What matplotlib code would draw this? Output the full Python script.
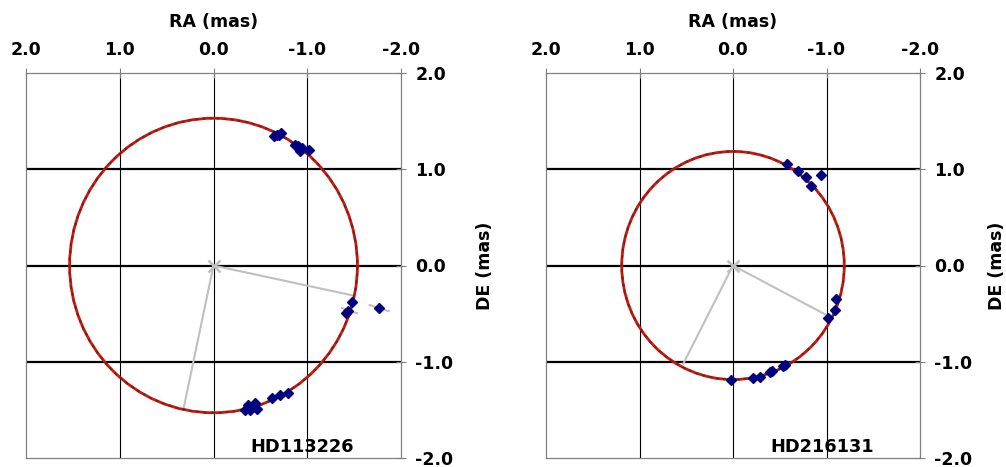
import matplotlib
matplotlib.use("Agg")
import matplotlib.pyplot as plt
from matplotlib.patches import Ellipse

plt.rcParams['font.family'] = ['DejaVu Sans']
plt.rcParams['font.weight'] = 'bold'

# ---- data ----
ticks = [-2.0, -1.0, 0.0, 1.0, 2.0]
tick_labels = ["-2.0", "-1.0", "0.0", "1.0", "2.0"]

names = ["HD113226", "HD216131"]

# observed positions (RA, DE) in mas
ra_1 = [-0.645, -0.674, -0.720, -0.702, -0.869, -0.905, -0.923, -0.941, -1.022,
        -1.477, -1.431, -1.413, -1.762,
        -0.365, -0.336, -0.389, -0.443, -0.461, -0.627, -0.709, -0.791]
de_1 = [1.349, 1.359, 1.377, 1.359, 1.255, 1.238, 1.185, 1.221, 1.196,
        -0.383, -0.474, -0.492, -0.446,
        -1.446, -1.505, -1.505, -1.425, -1.488, -1.373, -1.349, -1.321]

ra_2 = [-0.581, -0.692, -0.781, -0.831, -0.938,
        -1.102, -1.091, -1.013,
        -0.556, -0.538, -0.414, -0.396, -0.289, -0.217, 0.025]
de_2 = [1.054, 0.984, 0.915, 0.821, 0.943,
        -0.352, -0.464, -0.544,
        -1.029, -1.047, -1.092, -1.108, -1.154, -1.171, -1.185]

# orbit sizes (full width / height, mas)
orbit_w = [3.07, 2.38]
orbit_h = [3.06, 2.37]

# radial lines from centre: end points (RA, DE)
spoke_ra = [[-1.48, 0.317], [-1.002, 0.531]]
spoke_de = [[-0.31, -1.476], [-0.516, -1.019]]

# short uncertainty segments (RA pairs, DE pairs) for first star
err_ra = [[-1.666, -1.868], [-1.371, -1.531]]
err_de = [[-0.411, -0.474], [-0.443, -0.495]]

ras = [ra_1, ra_2]
des = [de_1, de_2]

W, H = 1006, 467
fig = plt.figure(figsize=(W / 100, H / 100), dpi=100)

panels = [(26, 401), (546, 920)]
ylabel_pads = [16, 11]
top_px, bot_px = 73, 458

for i, (x0, x1) in enumerate(panels):
    ax = fig.add_axes([x0 / W, 1 - bot_px / H, (x1 - x0) / W, (bot_px - top_px) / H])
    ax.set_xlim(2, -2)
    ax.set_ylim(-2, 2)

    # grid
    for v in [-1.0, 0.0, 1.0]:
        ax.axvline(v, color='black', lw=0.8, zorder=1)
        ax.axhline(v, color='black', lw=1.6, zorder=1)

    # spokes
    for k in range(2):
        ax.plot([0, spoke_ra[i][k]], [0, spoke_de[i][k]], color='#c0c0c0', lw=1.5, zorder=2)
    ax.plot([0], [0], marker='x', color='#c0c0c0', markersize=8, mew=1.8, zorder=2)

    if i == 0:
        for k in range(len(err_ra)):
            ax.plot(err_ra[k], err_de[k], color='#c0c0c0', lw=1.5, zorder=2)

    # orbits
    ax.add_patch(Ellipse((0, 0), orbit_w[i], orbit_h[i], fill=False,
                         edgecolor='#ff0000', lw=2.0, zorder=3))
    ax.add_patch(Ellipse((0, 0), orbit_w[i], orbit_h[i], fill=False,
                         edgecolor='#1a4d33', lw=1.5, linestyle=(0, (1.5, 1.9)), zorder=4))

    # observations
    ax.plot(ras[i], des[i], linestyle='none', marker='D', markersize=5.2,
            color='#000080', zorder=5)

    ax.text(-0.95, -1.94, names[i], ha='center', va='baseline',
            fontsize=12.8, fontweight='bold', zorder=6)

    # axes styling
    ax.xaxis.tick_top()
    ax.xaxis.set_label_position('top')
    ax.yaxis.tick_right()
    ax.yaxis.set_label_position('right')
    ax.set_xticks(ticks)
    ax.set_xticklabels(tick_labels)
    ax.set_yticks(ticks)
    ax.set_yticklabels(tick_labels)
    ax.tick_params(axis='both', direction='inout', length=6.5, width=0.8,
                   color='#808080', labelsize=12.5, pad=7)
    for lab in ax.get_xticklabels() + ax.get_yticklabels():
        lab.set_fontweight('bold')
    for s in ax.spines.values():
        s.set_color('#808080')
        s.set_linewidth(0.9)
    ax.set_xlabel("RA (mas)", fontsize=12.5, fontweight='bold', labelpad=10)
    ax.set_ylabel("DE (mas)", fontsize=12.5, fontweight='bold', labelpad=ylabel_pads[i])

fig.savefig("out.png", dpi=100)
